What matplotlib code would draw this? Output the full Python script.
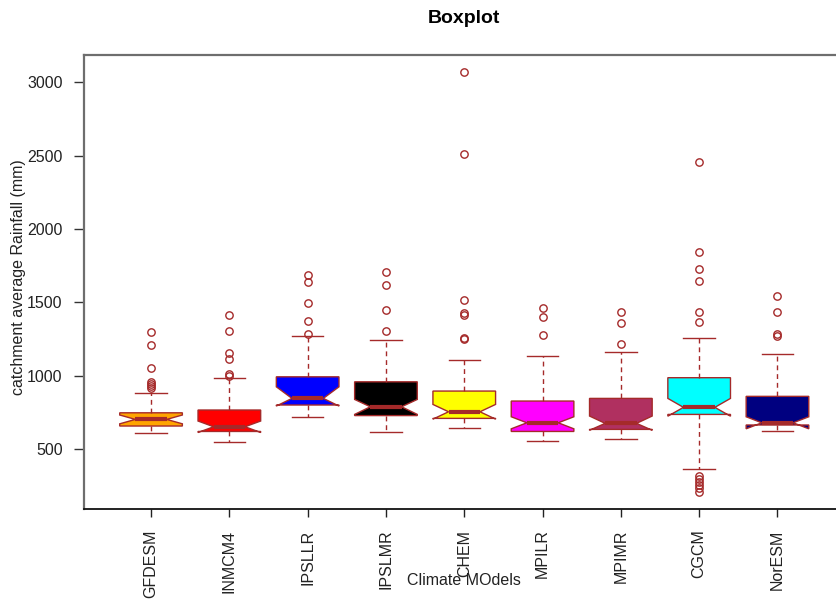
import matplotlib
matplotlib.use("Agg")
import matplotlib.pyplot as plt

plt.rcParams['font.family'] = ['Liberation Sans', 'DejaVu Sans']

# Rainfall summaries (mm) for each climate model
models = ["GFDESM", "INMCM4", "IPSLLR", "IPSLMR", "CHEM",
          "MPILR", "MPIMR", "CGCM", "NorESM"]
fill_colors = ["#FFA500", "#FF0000", "#0000FF", "#000000", "#FFFF00",
               "#FF00FF", "#B03060", "#00FFFF", "#000080"]

whisker_low = [613, 552, 722, 620, 643, 556, 570, 366, 625]
hinge_low = [659, 622, 802, 730, 711, 622, 636, 738, 666]
medians = [704, 654, 847, 790, 756, 681, 677, 786, 681]
hinge_high = [749, 768, 994, 960, 897, 829, 847, 988, 861]
whisker_high = [881, 988, 1272, 1245, 1106, 1138, 1161, 1258, 1151]
notch_low = [674, 615, 795, 738, 706, 640, 630, 726, 640]
notch_high = [734, 693, 926, 840, 806, 722, 727, 847, 722]

outliers_gfdesm = [1299, 1208, 1056, 962, 945, 930, 915]
outliers_inmcm4 = [1413, 1306, 1154, 1115, 1011, 999]
outliers_ipsllr = [1687, 1640, 1494, 1376, 1285]
outliers_ipslmr = [1708, 1619, 1451, 1306]
outliers_chem = [3070, 2514, 1515, 1430, 1413, 1256, 1250]
outliers_mpilr = [1460, 1403, 1277]
outliers_mpimr = [1437, 1360, 1215]
outliers_cgcm = [2459, 1846, 1728, 1647, 1437, 1367,
                 320, 295, 275, 255, 240, 208]
outliers_noresm = [1542, 1437, 1283, 1270]
outliers = [outliers_gfdesm, outliers_inmcm4, outliers_ipsllr,
            outliers_ipslmr, outliers_chem, outliers_mpilr,
            outliers_mpimr, outliers_cgcm, outliers_noresm]

y_ticks = [500, 1000, 1500, 2000, 2500, 3000]

W, H = 836, 601
fig = plt.figure(figsize=(W / 100, H / 100), dpi=100)
ax_left, ax_right = 83.7, 844.8
ax_top, ax_bottom = 55.0, 509.3
ax = fig.add_axes([ax_left / W, 1 - ax_bottom / H,
                   (ax_right - ax_left) / W, (ax_bottom - ax_top) / H])

stats = []
for i, name in enumerate(models):
    stats.append(dict(label=name, whislo=whisker_low[i], q1=hinge_low[i],
                      med=medians[i], q3=hinge_high[i],
                      whishi=whisker_high[i], cilo=notch_low[i],
                      cihi=notch_high[i], fliers=outliers[i]))

border = "#A52A2A"
positions = list(range(1, len(models) + 1))
bp = ax.bxp(stats, positions=positions, widths=0.8, capwidths=0.4,
            shownotches=True, patch_artist=True,
            boxprops=dict(edgecolor=border, linewidth=1.0),
            whiskerprops=dict(color=border, linestyle=(0, (3.5, 2.8)),
                              linewidth=1.0),
            capprops=dict(color=border, linewidth=1.0),
            medianprops=dict(color=border, linewidth=3.0,
                             solid_capstyle="butt"),
            flierprops=dict(marker="o", markerfacecolor="none",
                            markeredgecolor=border, markersize=5.3,
                            markeredgewidth=1.0, linestyle="none"))
for patch, c in zip(bp["boxes"], fill_colors):
    patch.set_facecolor(c)

ax.set_xlim(0.14, 9.86)
ax.set_ylim(92, 3185)
ax.set_yticks(y_ticks)
ax.set_yticklabels([str(t) for t in y_ticks])
ax.set_xticks(positions)
ax.set_xticklabels(models, rotation=90, va="top", ha="center")

ax.tick_params(axis="y", length=7.2, width=1.0, pad=7.9, labelsize=11.5,
               color="#333333", labelcolor="#222222")
ax.tick_params(axis="x", length=6.0, width=1.0, pad=8.6, labelsize=11.5,
               color="#222222", labelcolor="#222222")

for side in ("left", "top"):
    ax.spines[side].set_color("#6e6e6e")
    ax.spines[side].set_linewidth(1.6)
ax.spines["bottom"].set_color("#111111")
ax.spines["bottom"].set_linewidth(1.3)
ax.spines["right"].set_visible(False)

fig.text(464 / W, 1 - 23.3 / H, "Boxplot", ha="center", va="baseline",
         fontsize=14, fontweight="bold", color="black")
fig.text(463.5 / W, 1 - 585 / H, "Climate MOdels", ha="center",
         va="baseline", fontsize=11.5, color="#222222")
fig.text(19 / W, 1 - 277 / H, "catchment average Rainfall (mm)",
         ha="center", va="center", rotation=90, fontsize=11.5,
         color="#222222")

fig.savefig("out.png", dpi=100)
